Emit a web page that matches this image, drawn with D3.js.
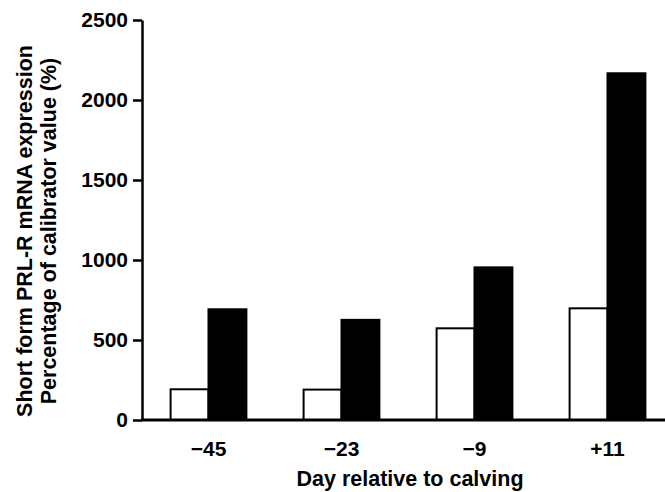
<!DOCTYPE html>
<html>
<head>
<meta charset="utf-8">
<script src="https://cdn.jsdelivr.net/npm/d3@7"></script>
<style>
  body { margin: 0; background: #fff; }
  text { font-family: "Liberation Sans", Arial, sans-serif; font-weight: bold; fill: #000; }
</style>
</head>
<body>
<svg id="canvas" width="665" height="492"></svg>
<script>
// data
let days = ['\u221245', '\u221223', '\u22129', '+11']
let series = ['open', 'filled']
let openValues = [192, 190, 573, 698]
let filledValues = [692, 626, 954, 2167]
let yTicks = [0, 500, 1000, 1500, 2000, 2500]

let canvas = d3.select('#canvas')

let plotLeft = 142
let plotRight = 665
let plotTop = 20
let plotBottom = 420

let yScale = d3.scaleLinear()
    .domain([0, 2500])
    .range([plotBottom, plotTop])

let xScale = d3.scaleBand()
    .domain(days)
    .range([plotLeft, plotLeft + 532])
    .paddingInner(0.43)
    .paddingOuter(0.215)

let subScale = d3.scaleBand()
    .domain(series)
    .range([0, xScale.bandwidth()])

let rows = days.map((d, i) => ({ day: d, open: openValues[i], filled: filledValues[i] }))

// bars
let group = canvas.selectAll('g.group')
    .data(rows)
    .enter()
    .append('g')
    .attr('class', 'group')
    .attr('transform', (d) => 'translate(' + xScale(d.day) + ',0)')

group.selectAll('rect')
    .data((d) => series.map((s) => ({ key: s, value: d[s] })))
    .enter()
    .append('rect')
    .attr('x', (d) => subScale(d.key))
    .attr('y', (d) => yScale(d.value))
    .attr('width', subScale.bandwidth())
    .attr('height', (d) => plotBottom - yScale(d.value))
    .attr('fill', (d) => d.key === 'open' ? '#fff' : '#000')
    .attr('stroke', '#000')
    .attr('stroke-width', 2)

// y axis
let yAxis = d3.axisLeft(yScale)
    .tickValues(yTicks)
    .tickFormat(d3.format('d'))
    .tickSize(9)
    .tickSizeOuter(0)
    .tickPadding(5)

let yG = canvas.append('g')
    .attr('transform', 'translate(' + plotLeft + ',0)')
    .call(yAxis)
yG.select('.domain').attr('stroke-width', 2.5)
yG.selectAll('.tick line').attr('stroke-width', 2.5)
yG.selectAll('.tick text')
    .attr('font-size', 21)
    .attr('font-family', '"Liberation Sans", Arial, sans-serif')
    .attr('font-weight', 'bold')
    .attr('fill', '#000')

// x axis line
canvas.append('line')
    .attr('x1', plotLeft - 1)
    .attr('x2', plotRight)
    .attr('y1', plotBottom)
    .attr('y2', plotBottom)
    .attr('stroke', '#000')
    .attr('stroke-width', 3)

// x tick labels
canvas.selectAll('text.xlab')
    .data(days)
    .enter()
    .append('text')
    .attr('class', 'xlab')
    .attr('x', (d) => xScale(d) + xScale.bandwidth() / 2)
    .attr('y', 456)
    .attr('text-anchor', 'middle')
    .attr('font-size', 21)
    .text((d) => d)

// axis titles
canvas.append('text')
    .attr('x', 410)
    .attr('y', 486)
    .attr('text-anchor', 'middle')
    .attr('font-size', 21.5)
    .text('Day relative to calving')

canvas.append('text')
    .attr('transform', 'translate(32,231) rotate(-90)')
    .attr('text-anchor', 'middle')
    .attr('font-size', 21.5)
    .text('Short form PRL-R mRNA expression')

canvas.append('text')
    .attr('transform', 'translate(56,231) rotate(-90)')
    .attr('text-anchor', 'middle')
    .attr('font-size', 21.5)
    .text('Percentage of calibrator value (%)')
</script>
</body>
</html>
